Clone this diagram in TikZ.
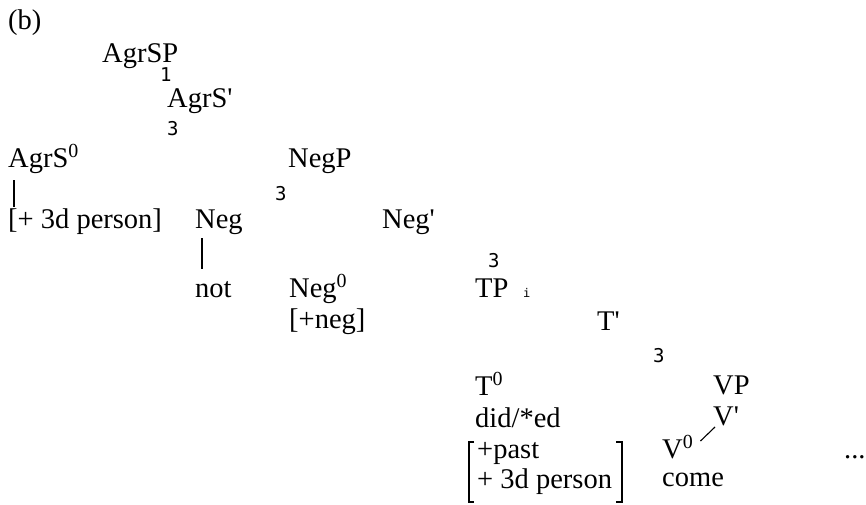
\documentclass[tikz,border=0pt]{standalone}
\usepackage{fontspec}
\setmainfont{Liberation Serif}
\newfontfamily\treeglyphs{DejaVu Sans Mono}
\usetikzlibrary{calc}
\begin{document}
\begin{tikzpicture}[x=1pt,y=-1pt,
  lbl/.style={anchor=base west,inner sep=0pt,font=\fontsize{28.5}{34}\selectfont},
  glyph/.style={anchor=base west,inner sep=0pt,font=\treeglyphs\fontsize{19}{22}\selectfont},
  tinyglyph/.style={anchor=base west,inner sep=0pt,font=\treeglyphs\fontsize{12}{14}\selectfont},
  stem/.style={line width=1.6pt},
  featbracket/.style={line width=1.3pt}]
\useasboundingbox (0,0) rectangle (866,504);

% label of the example
\node[lbl] (ex) at (8,29) {(b)};

% AgrSP layer
\node[lbl] (agrsp) at (102,62) {AgrSP};
\node[glyph] (g1) at (160,81) {1};
\node[lbl] (agrsbar) at (167,107) {AgrS\textquotesingle};
\node[glyph] (g2) at (167,135) {3};
\node[lbl] (agrs0) at (8,167) {AgrS\textsuperscript{0}};
\node[lbl] (agrsfeat) at (8,228) {[+ 3d person]};
\draw[stem] ($(agrs0.base west)+(6,13)$) -- ($(agrsfeat.base west)+(6,-21)$);

% NegP layer
\node[lbl] (negp) at (288,167) {NegP};
\node[glyph] (g3) at (275,200) {3};
\node[lbl] (neg) at (195,228) {Neg};
\node[lbl] (not) at (195,297) {not};
\draw[stem] ($(neg.base west)+(7,10)$) -- ($(not.base west)+(7,-28)$);
\node[lbl] (negbar) at (382,228) {Neg\textquotesingle};
\node[glyph] (g4) at (488,267) {3};
\node[lbl] (neg0) at (289,297) {Neg\textsuperscript{0}};
\node[lbl] (negfeat) at (289,328) {[+neg]};

% TP layer
\node[lbl] (tp) at (475,297) {TP};
\node[tinyglyph] (g5) at (523,297) {i};
\node[lbl] (tbar) at (597,330) {T\textquotesingle};
\node[glyph] (g6) at (653,362) {3};
\node[lbl] (t0) at (475,395) {T\textsuperscript{0}};
\node[lbl] (tform) at (475,427) {did/*ed};
\node[lbl] (fpast) at (477,458) {+past};
\node[lbl] (fperson) at (477,488) {+ 3d person};

% feature matrix brackets
\coordinate (bl) at ($(fpast.base west)+(-8,-16)$);
\coordinate (br) at ($(fperson.base west)+(145,14)$);
\draw[featbracket] ($(bl)+(5,0)$) -- (bl) -- (bl |- br) -- ++(5,0);
\draw[featbracket] ($(br |- bl)+(-6,0)$) -- (br |- bl) -- (br) -- ++(-6,0);

% VP layer
\node[lbl] (vp) at (713,394) {VP};
\node[lbl] (vbar) at (713,425) {V\textquotesingle};
\node[lbl] (v0) at (662,458) {V\textsuperscript{0}};
\node[lbl] (come) at (662,486) {come};
\node[lbl] (dots) at (844,458) {...};
\draw[line width=1.1pt] ($(v0.base east)+(7,-17)$) -- ($(vbar.base west)+(2,2)$);
\end{tikzpicture}
\end{document}
